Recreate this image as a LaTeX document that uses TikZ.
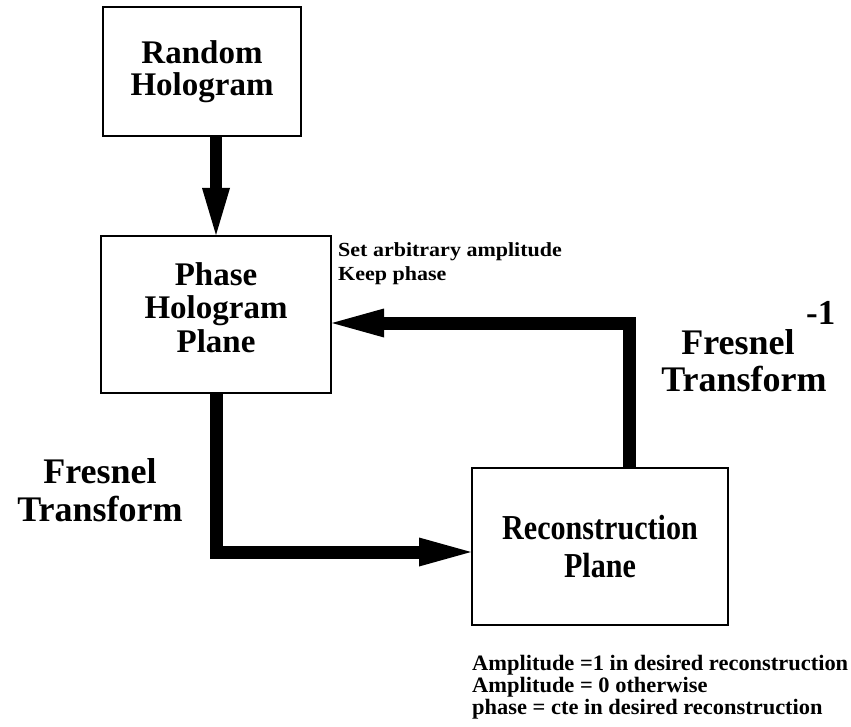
\documentclass[tikz,border=0pt]{standalone}
\usepackage{fontspec}
\setmainfont{Liberation Serif}
\usetikzlibrary{arrows.meta}
\tikzset{
  box/.style={draw, line width=2pt, align=center, inner sep=0pt},
  bigtxt/.style={font=\fontsize{33}{32}\selectfont\bfseries},
  lbl/.style={font=\fontsize{36}{38}\selectfont\bfseries, inner sep=0pt},
  note/.style={font=\fontsize{20}{23}\selectfont\bfseries, inner sep=0pt, anchor=base west},
  flow/.style={line width=13pt, line join=miter, -{Triangle[length=52pt, width=29pt, line width=0pt]}},
}
\begin{document}
\begin{tikzpicture}[x=1pt, y=-1pt]
\useasboundingbox (0,0) rectangle (851,727);

\node[box, bigtxt, minimum width=198pt, minimum height=129pt] (A) at (202,71.5) {Random\\Hologram};
\node[box, bigtxt, font=\fontsize{33}{33.5}\selectfont\bfseries, minimum width=230pt, minimum height=157pt, text depth=14pt] (B) at (216,314.5) {Phase\\Hologram\\Plane};
\node[box, font=\fontsize{35}{38}\selectfont\bfseries, minimum width=256pt, minimum height=157pt] (C) at (600,546.5) {\scalebox{0.86}[1]{Reconstruction}\\\scalebox{0.86}[1]{Plane}};

\draw[flow, line width=12pt, -{Triangle[length=47pt, width=28pt, line width=0pt]}] (A.south -| B.north) -- (B.north);
\draw[flow] (B.south) |- ([yshift=-5.5pt]C.west);
\draw[flow] ([xshift=29.5pt]C.north) |- ([yshift=-8.5pt]B.east);

\node[note] (n1) at (338,257) {\scalebox{1.1}[1]{Set arbitrary amplitude}};
\node[note] (n2) at (338,280) {\scalebox{1.1}[1]{Keep phase}};

\node[lbl, anchor=base] (rf) at (738,354) {Fresnel};
\node[lbl, anchor=base] (rt) at (744,391) {Transform};
\node[lbl, font=\fontsize{35}{35}\selectfont\bfseries, anchor=base west] (rm) at (806,324) {-1};

\node[lbl, anchor=base] (lf) at (100,483) {Fresnel};
\node[lbl, anchor=base] (lt) at (100,521) {Transform};

\node[note, font=\fontsize{22}{23}\selectfont\bfseries] (b1) at (472,670) {\scalebox{1.02}[1]{Amplitude =1 in desired reconstruction}};
\node[note, font=\fontsize{22}{23}\selectfont\bfseries] (b2) at (472,692) {\scalebox{1.02}[1]{Amplitude = 0 otherwise}};
\node[note, font=\fontsize{22}{23}\selectfont\bfseries] (b3) at (472,714) {\scalebox{1.02}[1]{phase = cte in desired reconstruction}};
\end{tikzpicture}
\end{document}
